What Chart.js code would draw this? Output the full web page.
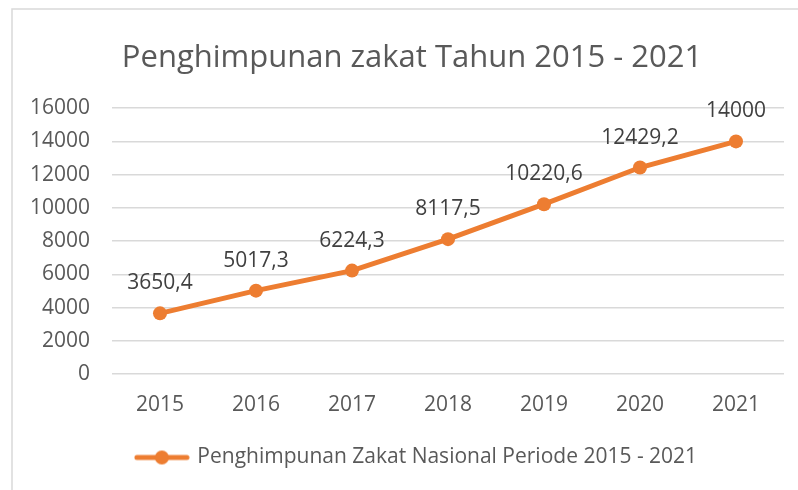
<!DOCTYPE html>
<html>
<head>
<meta charset="utf-8">
<script src="https://cdn.jsdelivr.net/npm/chart.js@4"></script>
<style>
  html, body { margin: 0; padding: 0; background: #fff; }
  #wrap { width: 798px; height: 490px; position: relative; }
</style>
</head>
<body>
<div id="wrap"><canvas id="chart" width="798" height="490"></canvas></div>
<script>
const years = ['2015', '2016', '2017', '2018', '2019', '2020', '2021'];
const zakat = [3650.4, 5017.3, 6224.3, 8117.5, 10220.6, 12429.2, 14000];
const seriesName = 'Penghimpunan Zakat Nasional Periode 2015 - 2021';
const chartTitle = 'Penghimpunan zakat Tahun 2015 - 2021';

const orange = '#ED7D31';
const grey = '#595959';
const fontFamily = '"Open Sans", Lato, sans-serif';

// legend symbol: short line with a dot in the middle
const legendMark = document.createElement('canvas');
legendMark.width = 56;
legendMark.height = 16;
(function () {
  const c = legendMark.getContext('2d');
  c.strokeStyle = orange;
  c.lineWidth = 5;
  c.lineCap = 'round';
  c.beginPath();
  c.moveTo(3, 8);
  c.lineTo(53, 8);
  c.stroke();
  c.fillStyle = orange;
  c.beginPath();
  c.arc(28, 8, 7, 0, Math.PI * 2);
  c.fill();
})();

const frame = {
  id: 'frame',
  afterLayout(chart) {
    // centre the legend and title on the framed box, not the whole canvas
    chart.legend.left = 36;
    chart.legend.right = 798;
    chart.titleBlock.left = 36;
    chart.titleBlock.right = 788;
  },
  beforeDraw(chart) {
    const ctx = chart.ctx;
    ctx.save();
    ctx.fillStyle = '#fff';
    ctx.fillRect(0, 0, chart.width, chart.height);
    ctx.strokeStyle = '#d9d9d9';
    ctx.lineWidth = 1.5;
    ctx.strokeRect(12, 9, 820, 520);
    ctx.restore();
  }
};

const valueLabels = {
  id: 'valueLabels',
  afterDatasetsDraw(chart) {
    const ctx = chart.ctx;
    const meta = chart.getDatasetMeta(0);
    ctx.save();
    ctx.font = '21px ' + fontFamily;
    ctx.fillStyle = '#404040';
    ctx.textAlign = 'center';
    ctx.textBaseline = 'middle';
    meta.data.forEach((pt, i) => {
      const txt = String(zakat[i]).replace('.', ',');
      ctx.fillText(txt, pt.x, pt.y - 30);
    });
    ctx.restore();
  }
};

const ctx = document.getElementById('chart').getContext('2d');
new Chart(ctx, {
  type: 'line',
  data: {
    labels: years,
    datasets: [
      {
        label: seriesName,
        data: zakat,
        borderColor: orange,
        backgroundColor: orange,
        borderWidth: 5,
        pointRadius: 7,
        pointHoverRadius: 7,
        pointBackgroundColor: orange,
        pointBorderWidth: 0,
        tension: 0
      }
    ]
  },
  options: {
    responsive: false,
    animation: false,
    devicePixelRatio: 1,
    layout: {
      padding: { left: 14, right: 14, top: 0, bottom: 12 }
    },
    plugins: {
      title: {
        display: true,
        text: chartTitle,
        color: grey,
        font: { family: fontFamily, size: 31, weight: 'normal' },
        padding: { top: 40, bottom: 31 }
      },
      legend: {
        display: true,
        position: 'bottom',
        labels: {
          usePointStyle: true,
          pointStyle: legendMark,
          pointStyleWidth: 50,
          color: grey,
          padding: 30,
          font: { family: fontFamily, size: 21 }
        }
      },
      tooltip: { enabled: false }
    },
    scales: {
      x: {
        offset: true,
        afterFit(scale) { scale.height = 43; },
        grid: { display: false, drawTicks: false },
        border: { display: false },
        ticks: {
          color: grey,
          padding: 18,
          maxRotation: 0,
          font: { family: fontFamily, size: 21 }
        }
      },
      y: {
        min: 0,
        max: 16000,
        afterFit(scale) { scale.width = 98; },
        grid: { color: '#d9d9d9', lineWidth: 1.5, drawTicks: false },
        border: { display: false },
        ticks: {
          stepSize: 2000,
          color: grey,
          padding: 22,
          font: { family: fontFamily, size: 21 },
          callback: (v) => String(v)
        }
      }
    }
  },
  plugins: [frame, valueLabels]
});
</script>
</body>
</html>
